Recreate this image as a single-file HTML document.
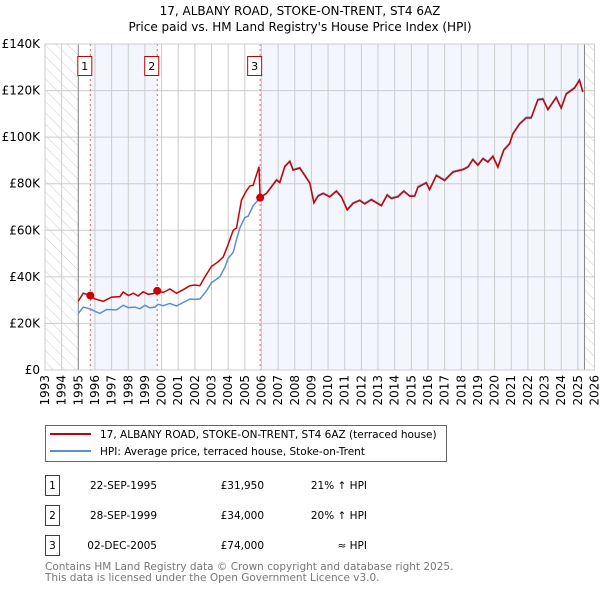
<!DOCTYPE html>
<html><head><meta charset="utf-8"><style>
body{margin:0;background:#fff;font-family:"DejaVu Sans","Liberation Sans",sans-serif;}
svg text{font-family:"DejaVu Sans","Liberation Sans",sans-serif;}
</style></head><body>
<svg id="c" width="600" height="590" xmlns="http://www.w3.org/2000/svg">
<defs><pattern id="hatch" width="8" height="8" patternUnits="userSpaceOnUse" patternTransform="rotate(-45)"><rect width="8" height="8" fill="#fff"/><line x1="0" y1="0" x2="0" y2="8" stroke="#ccc" stroke-width="1"/></pattern></defs>
<text x="300" y="15" text-anchor="middle" font-size="12">17, ALBANY ROAD, STOKE-ON-TRENT, ST4 6AZ</text>
<text x="300" y="31" text-anchor="middle" font-size="12">Price paid vs. HM Land Registry's House Price Index (HPI)</text>
<g id="plot"></g>
<g>
<rect x="45.5" y="425.5" width="401" height="36" fill="#fff" stroke="#666"/>
<line x1="50" y1="434" x2="91" y2="434" stroke="#cc0000" stroke-width="2"/>
<text x="100" y="438" font-size="10.5">17, ALBANY ROAD, STOKE-ON-TRENT, ST4 6AZ (terraced house)</text>
<line x1="50" y1="451" x2="91" y2="451" stroke="#5b8fd4" stroke-width="2"/>
<text x="100" y="455" font-size="10.5">HPI: Average price, terraced house, Stoke-on-Trent</text>
</g>
<g font-size="10.5">
<rect x="45.5" y="475.5" width="14" height="20" fill="none" stroke="#cc0000"/><text x="52.5" y="489" text-anchor="middle">1</text>
<text x="157" y="489" text-anchor="end">22-SEP-1995</text><text x="264" y="489" text-anchor="end">£31,950</text><text x="367" y="489" text-anchor="end">21% ↑ HPI</text>
<rect x="45.5" y="505.5" width="14" height="20" fill="none" stroke="#cc0000"/><text x="52.5" y="519" text-anchor="middle">2</text>
<text x="157" y="519" text-anchor="end">28-SEP-1999</text><text x="264" y="519" text-anchor="end">£34,000</text><text x="367" y="519" text-anchor="end">20% ↑ HPI</text>
<rect x="45.5" y="535.5" width="14" height="20" fill="none" stroke="#cc0000"/><text x="52.5" y="549" text-anchor="middle">3</text>
<text x="157" y="549" text-anchor="end">02-DEC-2005</text><text x="264" y="549" text-anchor="end">£74,000</text><text x="367" y="549" text-anchor="end">≈ HPI</text>
</g>
<text x="45" y="570" font-size="10.5" fill="#777">Contains HM Land Registry data © Crown copyright and database right 2025.</text>
<text x="45" y="581" font-size="10.5" fill="#777">This data is licensed under the Open Government Licence v3.0.</text>
</svg>
<script>
const yTicks=[0,20,40,60,80,100,120,140];
const yTickLabels=["£0","£20K","£40K","£60K","£80K","£100K","£120K","£140K"];
const xYears=[1993,1994,1995,1996,1997,1998,1999,2000,2001,2002,2003,2004,2005,2006,2007,2008,2009,2010,2011,2012,2013,2014,2015,2016,2017,2018,2019,2020,2021,2022,2023,2024,2025,2026];
const saleYears=[1995.72,1999.74,2005.92];
const saleValues=[31.95,34,74];
const saleLabels=["1","2","3"];
const dataStart=1995.0, dataEnd=2025.4;
const priceYears=[1995.0,1995.3,1995.72,1996.0,1996.5,1997.0,1997.5,1997.7,1998.0,1998.3,1998.6,1998.9,1999.2,1999.5,1999.74,2000.1,2000.5,2000.9,2001.3,2001.7,2002.0,2002.3,2002.6,2003.0,2003.4,2003.7,2004.0,2004.3,2004.5,2004.8,2005.1,2005.3,2005.5,2005.8,2005.85,2005.92,2006.3,2006.9,2007.1,2007.4,2007.7,2007.9,2008.3,2008.9,2009.15,2009.4,2009.7,2010.1,2010.5,2010.8,2011.15,2011.5,2011.9,2012.2,2012.6,2013.2,2013.55,2013.8,2014.2,2014.55,2014.9,2015.2,2015.4,2015.9,2016.1,2016.5,2017.0,2017.5,2018.1,2018.4,2018.7,2019.0,2019.3,2019.6,2019.9,2020.2,2020.55,2020.9,2021.1,2021.5,2021.9,2022.2,2022.6,2022.9,2023.2,2023.7,2024.0,2024.3,2024.8,2025.1,2025.3];
const priceValues=[29.6,33,31.95,30.5,29.5,31.3,31.5,33.5,32,33,31.8,33.6,32.5,32.8,34,33.3,34.8,33,34.5,36.2,36.5,36.2,40,44.5,46.5,48.5,54,60,61,73,77,79,79.3,86,87.3,74,75.8,81.5,80.5,87.3,89.6,85.8,86.7,80.2,71.7,74.7,75.8,74.3,76.8,74.3,68.7,71.5,72.8,71.3,73.1,70.5,75.1,73.6,74.4,76.8,74.6,74.7,78.5,80.3,77.4,83.5,81.4,85,86,87.1,90.3,87.9,90.7,89.3,91.7,87.1,94.3,97.1,101.4,105.6,108.2,108.2,116,116.3,111.8,117,112.4,118.5,121,124.4,119.4];
const hpiYears=[1995.0,1995.3,1995.7,1996.0,1996.3,1996.7,1997.3,1997.7,1998.0,1998.4,1998.7,1999.0,1999.3,1999.6,1999.8,2000.1,2000.5,2000.9,2001.3,2001.7,2002.0,2002.3,2002.7,2003.0,2003.5,2003.8,2004.0,2004.3,2004.5,2004.7,2005.0,2005.2,2005.5,2005.8,2006.0,2006.3,2006.9,2007.1,2007.4,2007.7,2007.9,2008.3,2008.9,2009.15,2009.4,2009.7,2010.1,2010.5,2010.8,2011.15,2011.5,2011.9,2012.2,2012.6,2013.2,2013.55,2013.8,2014.2,2014.55,2014.9,2015.2,2015.4,2015.9,2016.1,2016.5,2017.0,2017.5,2018.1,2018.4,2018.7,2019.0,2019.3,2019.6,2019.9,2020.2,2020.55,2020.9,2021.1,2021.5,2021.9,2022.2,2022.6,2022.9,2023.2,2023.7,2024.0,2024.3,2024.8,2025.1,2025.3];
const hpiValues=[24.3,27,26.3,25.2,24.3,26,25.8,27.8,26.8,27,26.3,27.8,26.7,27,28.2,27.6,28.6,27.5,29,30.5,30.3,30.5,34,37.5,40,44,48,50.5,56,61,65.5,66,70.5,73,74.5,76,81.8,80.8,87.5,89.8,86,87,80.5,72,75,76,74.6,77,74.6,69,71.8,73,71.6,73.4,70.8,75.4,73.9,74.7,77,74.9,75,78.8,80.6,77.7,83.8,81.7,85.3,86.3,87.4,90.6,88.2,91,89.6,92,87.4,94.6,97.4,101.7,105.9,108.5,108.5,116.3,116.6,112.1,117.3,112.7,118.8,121.3,124.7,119.7];

const NS="http://www.w3.org/2000/svg";
const L=45,R=594.5,T=44,B=370,Y0=1993,Y1=2026,VMAX=140;
function xs(y){return L+(y-Y0)/(Y1-Y0)*(R-L);}
function ys(v){return B-v/VMAX*(B-T);}
const g=document.getElementById('plot');
function mk(tag,attrs,parent){const e=document.createElementNS(NS,tag);for(const k in attrs)e.setAttribute(k,attrs[k]);(parent||g).appendChild(e);return e;}
let e;
e=mk('rect',{x:L,y:T,width:R-L,height:B-T,fill:'#fff'});


// shaded ownership bands
e=mk('rect',{x:xs(saleYears[0]),y:T,width:xs(saleYears[1])-xs(saleYears[0]),height:B-T,fill:'#f3f6fd'});


e=mk('rect',{x:xs(saleYears[2]),y:T,width:xs(dataEnd)-xs(saleYears[2]),height:B-T,fill:'#f3f6fd'});


// hatch
e=mk('rect',{x:L,y:T,width:xs(dataStart)-L,height:B-T,fill:'url(#hatch)'});


e=mk('rect',{x:xs(dataEnd),y:T,width:R-xs(dataEnd),height:B-T,fill:'url(#hatch)'});


// grid
xYears.forEach(yr=>{
  e=mk('line',{x1:xs(yr),x2:xs(yr),y1:T,y2:B,stroke:'#ccc','stroke-width':1});
  
  
  e=mk('text',{x:0,y:0,'font-size':12,'text-anchor':'end',transform:`translate(${xs(yr)+4},${B+5}) rotate(-90)`});
  e.textContent=yr;
  
  
});
yTicks.forEach((v,i)=>{
  e=mk('line',{x1:L,x2:R,y1:ys(v),y2:ys(v),stroke:'#ccc','stroke-width':1});
  
  
  e=mk('text',{x:L-5,y:ys(v)+4,'font-size':12,'text-anchor':'end'});
  e.textContent=yTickLabels[i];
  
  
});
e=mk('line',{x1:xs(dataStart),x2:xs(dataStart),y1:T,y2:B,stroke:'#888'});


e=mk('line',{x1:xs(dataEnd),x2:xs(dataEnd),y1:T,y2:B,stroke:'#888'});


// sale lines
saleYears.forEach((yr,i)=>{
  e=mk('line',{x1:xs(yr),x2:xs(yr),y1:T,y2:B,stroke:'#e06060','stroke-dasharray':'2,3'});
  
  
  e=mk('rect',{x:xs(yr)-12.5,y:56.5,width:14,height:19,fill:'#fff',stroke:'#cc0000'});
  
  
  e=mk('text',{x:xs(yr)-5.5,y:70,'font-size':11,'text-anchor':'middle'});
  e.textContent=saleLabels[i];
  
  
});
function path(xa,va){return xa.map((x,i)=>(i?'L':'M')+xs(x).toFixed(1)+','+ys(va[i]).toFixed(1)).join('');}
e=mk('path',{d:path(hpiYears,hpiValues),fill:'none',stroke:'#5b8fd4','stroke-width':1.5});


e=mk('path',{d:path(priceYears,priceValues),fill:'none',stroke:'#cc0000','stroke-width':1.5});


saleYears.forEach((yr,i)=>{
  e=mk('circle',{cx:xs(yr),cy:ys(saleValues[i]),r:4,fill:'#cc0000'});
  
  
});
e=mk('rect',{x:L,y:T,width:R-L,height:B-T,fill:'none',stroke:'#ccc'});


</script>
</body></html>
